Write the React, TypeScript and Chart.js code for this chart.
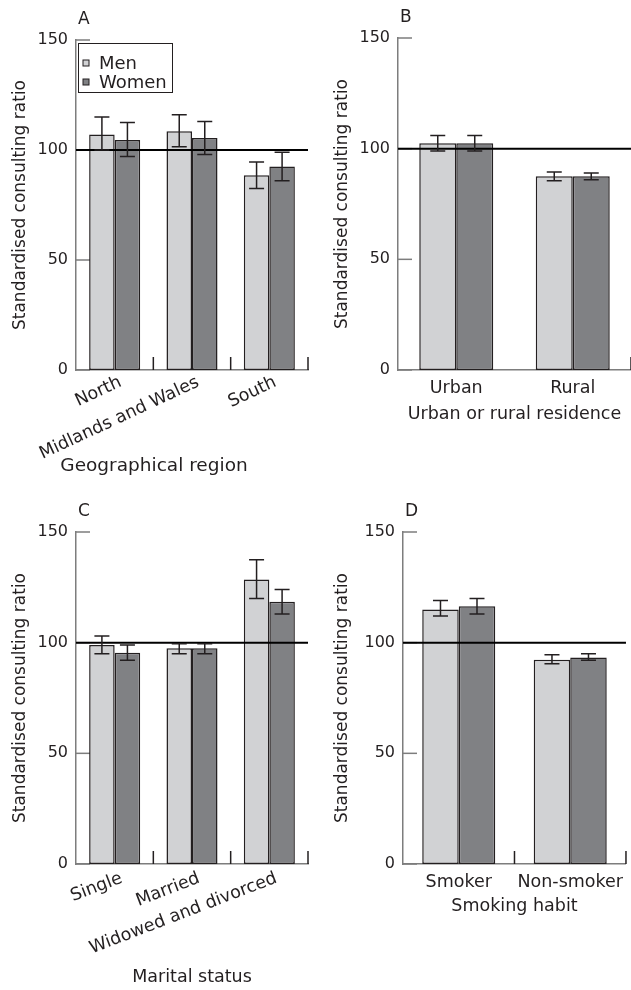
import React, { useEffect, useRef } from 'react';
import { Chart, registerables } from 'chart.js';

Chart.register(...registerables);

const FONT = '"DejaVu Sans", sans-serif';
const INK = '#231f20';
const AXIS = '#7d7d7d';
const MEN_FILL = '#d1d2d4';
const WOMEN_FILL = '#808184';

const SERIES = ['Men', 'Women'];
const Y_TICKS = [0, 50, 100, 150];
const REF_VALUE = 100;
const Y_TITLE = 'Standardised consulting ratio';

// A: Geographical region
const regionCats = ['North', 'Midlands and Wales', 'South'];
const regionMen = [107, 108.5, 88.5];
const regionMenLo = [100, 101.5, 82.5];
const regionMenHi = [115, 116, 94.5];
const regionWomen = [104.5, 105.5, 92.5];
const regionWomenLo = [97, 98, 86];
const regionWomenHi = [112.5, 113, 99];

// B: Urban or rural residence
const residenceCats = ['Urban', 'Rural'];
const residenceMen = [102.5, 87.5];
const residenceMenLo = [99, 85.5];
const residenceMenHi = [106, 89.5];
const residenceWomen = [102.5, 87.5];
const residenceWomenLo = [99, 86];
const residenceWomenHi = [106, 89];

// C: Marital status
const maritalCats = ['Single', 'Married', 'Widowed and divorced'];
const maritalMen = [99, 97.5, 128.5];
const maritalMenLo = [95, 95, 120];
const maritalMenHi = [103, 99.5, 137.5];
const maritalWomen = [95.5, 97.5, 118.5];
const maritalWomenLo = [92, 95, 113];
const maritalWomenHi = [99, 99.5, 124];

// D: Smoking habit
const smokingCats = ['Smoker', 'Non-smoker'];
const smokingMen = [115, 92.3];
const smokingMenLo = [112, 90.5];
const smokingMenHi = [119, 94.5];
const smokingWomen = [116.5, 93.3];
const smokingWomenLo = [113, 92];
const smokingWomenHi = [120, 95];

type PanelCfg = {
  letter: string;
  cats: string[];
  men: number[]; menLo: number[]; menHi: number[];
  women: number[]; womenLo: number[]; womenHi: number[];
  xTitle: string;
  xTitleByPlugin: boolean;
  xTitlePadTop: number;
  xTitlePad: number;
  xTitleSize: number;
  x: number; y: number; w: number; h: number;
  left: number; top: number; rightPad: number; bottom: number;
  rot: number; labelOffset: number; labelPad: number; catPct: number; boundaries: number[];
  yTitlePad: number; legend: boolean;
};

const decoPlugin = {
  id: 'panelDeco',
  beforeDatasetsDraw(chart: any, _args: any, opts: any) {
    const { ctx, chartArea: ca } = chart;
    const xs = chart.scales.x;
    const ys = chart.scales.y;
    ctx.save();
    ctx.strokeStyle = AXIS;
    ctx.lineWidth = 1.5;
    for (const t of ys.ticks) {
      const py = ys.getPixelForValue(t.value);
      ctx.beginPath();
      ctx.moveTo(ca.left, py);
      ctx.lineTo(ca.left + 14, py);
      ctx.stroke();
    }
    ctx.strokeStyle = INK;
    for (const b of opts.boundaries || []) {
      const px = xs.getPixelForValue(b - 0.5);
      ctx.beginPath();
      ctx.moveTo(px, ca.bottom);
      ctx.lineTo(px, ca.bottom - 13);
      ctx.stroke();
    }
    ctx.restore();
  },
  afterDatasetsDraw(chart: any, _args: any, opts: any) {
    const { ctx, chartArea: ca } = chart;
    const ys = chart.scales.y;
    ctx.save();
    // reference line
    const ry = ys.getPixelForValue(REF_VALUE);
    ctx.strokeStyle = '#000';
    ctx.lineWidth = 2;
    ctx.beginPath();
    ctx.moveTo(ca.left, ry);
    ctx.lineTo(ca.right, ry);
    ctx.stroke();
    // error bars
    ctx.strokeStyle = INK;
    ctx.lineWidth = 1.5;
    chart.data.datasets.forEach((ds: any, di: number) => {
      const meta = chart.getDatasetMeta(di);
      meta.data.forEach((bar: any, i: number) => {
        const lo = ys.getPixelForValue(ds.errLo[i]);
        const hi = ys.getPixelForValue(ds.errHi[i]);
        const px = bar.x;
        ctx.beginPath();
        ctx.moveTo(px, lo); ctx.lineTo(px, hi);
        ctx.moveTo(px - 7.5, lo); ctx.lineTo(px + 7.5, lo);
        ctx.moveTo(px - 7.5, hi); ctx.lineTo(px + 7.5, hi);
        ctx.stroke();
      });
    });
    // panel letter
    ctx.fillStyle = INK;
    ctx.font = `17px ${FONT}`;
    ctx.textAlign = 'left';
    ctx.textBaseline = 'middle';
    ctx.fillText(opts.letter, ca.left + 2, ca.top - 20);
    // legend
    if (opts.legend) {
      const bx = ca.left + 2, by = ca.top + 3;
      ctx.fillStyle = '#fff';
      ctx.fillRect(bx, by, 94, 49);
      ctx.strokeStyle = INK;
      ctx.lineWidth = 1;
      ctx.strokeRect(bx + 0.5, by + 0.5, 94, 49);
      chart.data.datasets.forEach((ds: any, di: number) => {
        const cy = ca.top + 23 + di * 19;
        ctx.fillStyle = ds.backgroundColor;
        ctx.fillRect(ca.left + 7, cy - 3, 6, 6);
        ctx.strokeStyle = INK;
        ctx.strokeRect(ca.left + 7, cy - 3, 6, 6);
        ctx.fillStyle = INK;
        ctx.font = `18px ${FONT}`;
        ctx.textBaseline = 'middle';
        ctx.fillText(ds.label, ca.left + 23, cy + 1);
      });
    }
    ctx.restore();
  },
};

const PANELS: PanelCfg[] = [
  {
    letter: 'A', cats: regionCats,
    men: regionMen, menLo: regionMenLo, menHi: regionMenHi,
    women: regionWomen, womenLo: regionWomenLo, womenHi: regionWomenHi,
    xTitle: 'Geographical region', xTitleByPlugin: true, xTitlePadTop: -10, xTitlePad: 18, xTitleSize: 18.5,
    x: 0, y: 0, w: 316, h: 495, left: 76, top: 40, rightPad: 8, bottom: 370,
    rot: 25, labelOffset: 6, labelPad: 2, catPct: 0.66, boundaries: [1, 2, 3], yTitlePad: 10, legend: true,
  },
  {
    letter: 'B', cats: residenceCats,
    men: residenceMen, menLo: residenceMenLo, menHi: residenceMenHi,
    women: residenceWomen, womenLo: residenceWomenLo, womenHi: residenceWomenHi,
    xTitle: 'Urban or rural residence', xTitleByPlugin: false, xTitlePadTop: 0, xTitlePad: 70, xTitleSize: 17.5,
    x: 316, y: 0, w: 315, h: 495, left: 82, top: 38, rightPad: 0, bottom: 370,
    rot: 0, labelOffset: 0, labelPad: 8, catPct: 0.635, boundaries: [2], yTitlePad: 16, legend: false,
  },
  {
    letter: 'C', cats: maritalCats,
    men: maritalMen, menLo: maritalMenLo, menHi: maritalMenHi,
    women: maritalWomen, womenLo: maritalWomenLo, womenHi: maritalWomenHi,
    xTitle: 'Marital status', xTitleByPlugin: false, xTitlePadTop: 0, xTitlePad: 2, xTitleSize: 17.5,
    x: 0, y: 495, w: 316, h: 495, left: 76, top: 37, rightPad: 8, bottom: 369,
    rot: 21, labelOffset: 7, labelPad: 4, catPct: 0.66, boundaries: [1, 2, 3], yTitlePad: 10, legend: false,
  },
  {
    letter: 'D', cats: smokingCats,
    men: smokingMen, menLo: smokingMenLo, menHi: smokingMenHi,
    women: smokingWomen, womenLo: smokingWomenLo, womenHi: smokingWomenHi,
    xTitle: 'Smoking habit', xTitleByPlugin: false, xTitlePadTop: 0, xTitlePad: 73, xTitleSize: 17.5,
    x: 316, y: 495, w: 315, h: 495, left: 87, top: 37, rightPad: 0, bottom: 369,
    rot: 0, labelOffset: 0, labelPad: 8, catPct: 0.655, boundaries: [1, 2], yTitlePad: 16, legend: false,
  },
];

function Panel({ cfg }: { cfg: PanelCfg }) {
  const ref = useRef<HTMLCanvasElement>(null);
  useEffect(() => {
    const xTitleFont = { family: FONT, size: cfg.xTitleSize };
    const pluginTitleBox = cfg.xTitleByPlugin ? cfg.xTitleSize * 1.2 + cfg.xTitlePadTop + cfg.xTitlePad : 0;
    const chart = new Chart(ref.current as HTMLCanvasElement, {
      type: 'bar',
      data: {
        labels: cfg.cats,
        datasets: [
          {
            label: SERIES[0], data: cfg.men, errLo: cfg.menLo, errHi: cfg.menHi,
            backgroundColor: MEN_FILL, borderColor: INK, borderWidth: 1.5, borderSkipped: false,
          } as any,
          {
            label: SERIES[1], data: cfg.women, errLo: cfg.womenLo, errHi: cfg.womenHi,
            backgroundColor: WOMEN_FILL, borderColor: INK, borderWidth: 1.5, borderSkipped: false,
          } as any,
        ],
      },
      options: {
        responsive: false,
        animation: false,
        devicePixelRatio: 1,
        layout: { padding: { left: 0, top: cfg.top, right: cfg.rightPad, bottom: 0 }, autoPadding: false },
        datasets: { bar: { categoryPercentage: cfg.catPct, barPercentage: 1 } },
        plugins: {
          legend: { display: false },
          tooltip: { enabled: false },
          title: cfg.xTitleByPlugin
            ? { display: true, position: 'bottom', text: cfg.xTitle, font: { ...xTitleFont, weight: 'normal' }, color: INK, padding: { top: cfg.xTitlePadTop, bottom: cfg.xTitlePad } }
            : { display: false },
          panelDeco: { letter: cfg.letter, legend: cfg.legend, boundaries: cfg.boundaries },
        } as any,
        scales: {
          x: {
            offset: true,
            grid: { display: false, drawTicks: false },
            border: { display: true, color: AXIS, width: 1.5 },
            ticks: {
              font: { family: FONT, size: 17.5 }, color: INK, padding: cfg.labelPad,
              minRotation: cfg.rot, maxRotation: cfg.rot, autoSkip: false,
              labelOffset: cfg.labelOffset,
            },
            title: cfg.xTitleByPlugin
              ? { display: false }
              : { display: true, text: cfg.xTitle, font: xTitleFont, color: INK, padding: { top: 0, bottom: cfg.xTitlePad } },
            afterFit: (s: any) => { s.height = cfg.h - cfg.bottom - pluginTitleBox; },
          },
          y: {
            min: 0, max: 150,
            afterBuildTicks: (s: any) => { s.ticks = Y_TICKS.map((v) => ({ value: v })); },
            ticks: { font: { family: FONT, size: 16 }, color: INK, padding: 8 },
            grid: { display: false, drawTicks: false },
            border: { display: true, color: AXIS, width: 1.5 },
            title: { display: true, text: Y_TITLE, font: { family: FONT, size: 17 }, color: INK, padding: { top: cfg.yTitlePad, bottom: 0 } },
            afterFit: (s: any) => { s.width = cfg.left; },
          },
        } as any,
      },
      plugins: [decoPlugin],
    } as any);
    return () => chart.destroy();
  }, [cfg]);
  return (
    <div style={{ position: 'absolute', left: cfg.x, top: cfg.y, width: cfg.w, height: cfg.h }}>
      <canvas ref={ref} width={cfg.w} height={cfg.h} style={{ width: cfg.w, height: cfg.h, display: 'block' }} />
    </div>
  );
}

export default function App() {
  return (
    <div style={{ position: 'absolute', left: 0, top: 0, width: 631, height: 990, background: '#fff', overflow: 'hidden' }}>
      {PANELS.map((p) => <Panel key={p.letter} cfg={p} />)}
    </div>
  );
}
